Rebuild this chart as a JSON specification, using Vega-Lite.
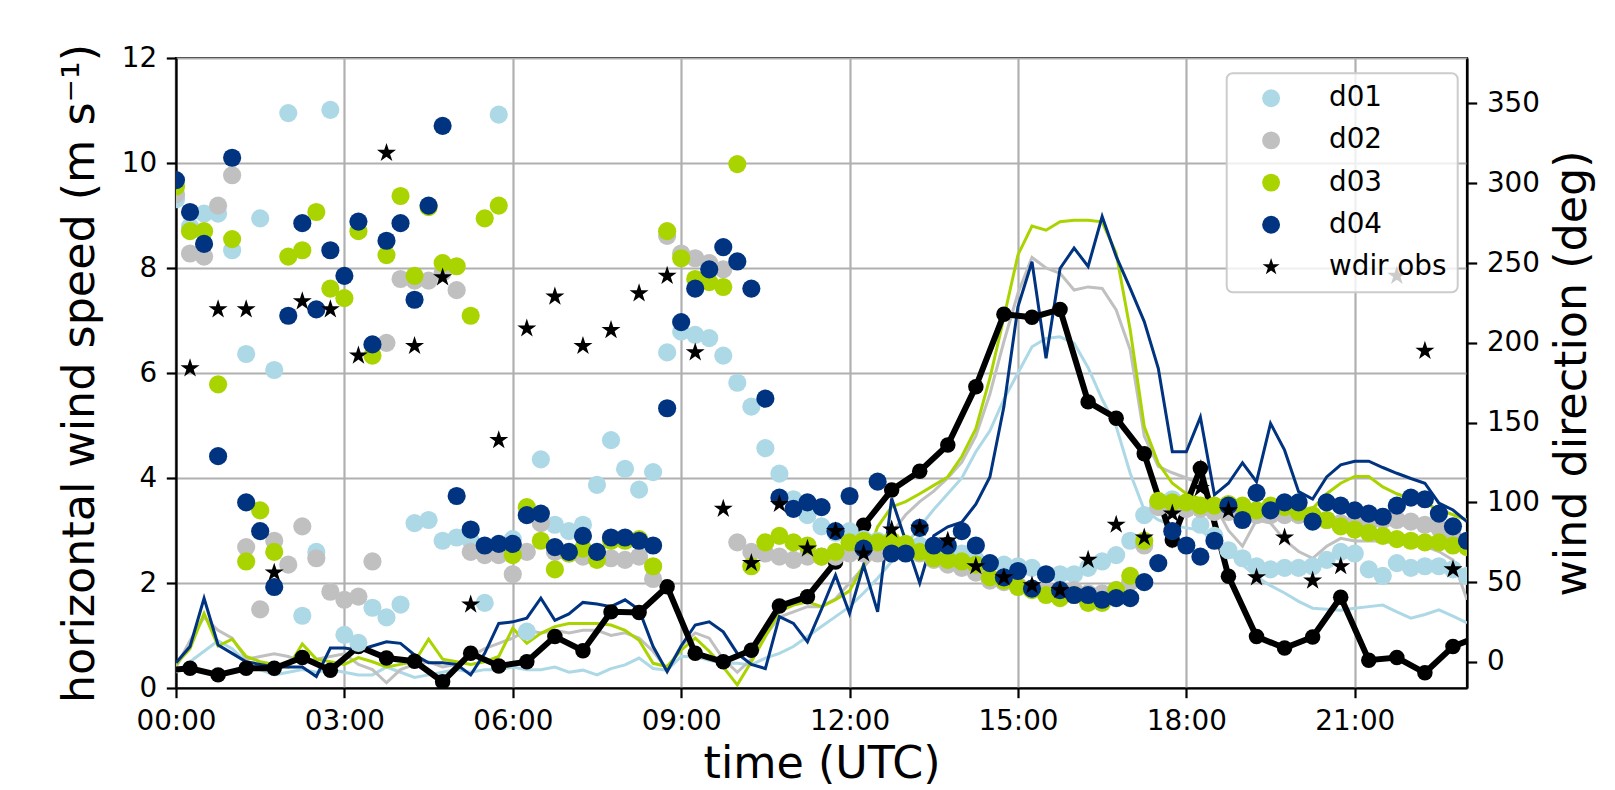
{
"$schema": "https://vega.github.io/schema/vega-lite/v6.json",
"width": 1291, "height": 630,
"autosize": {"type": "none"},
"padding": {"left": 176, "top": 58, "right": 148, "bottom": 102},
"background": "white",
"config": {
 "font": "DejaVu Sans",
 "view": {"stroke": "black", "strokeWidth": 2.2},
 "axis": {"domainColor": "black", "domainWidth": 2.2, "tickColor": "black", "tickWidth": 2.2, "tickSize": 9.7, "labelFont": "DejaVu Sans", "labelFontSize": 27.8, "labelColor": "black", "labelPadding": 9.7, "titleFont": "DejaVu Sans", "titleFontSize": 44.4, "titleFontWeight": "normal", "titleColor": "black", "gridColor": "#b0b0b0", "gridWidth": 2.2, "gridOpacity": 1},
 "legend": {"strokeWidth": 2}
},
"datasets": {
"model": [
{"t":0,"model":"d01","ws":0.3,"wd":290},{"t":0.25,"model":"d01","ws":0.5,"wd":273},{"t":0.5,"model":"d01","ws":0.7,"wd":281},{"t":0.75,"model":"d01","ws":0.9,"wd":281},
{"t":1,"model":"d01","ws":0.75,"wd":258},{"t":1.25,"model":"d01","ws":0.5,"wd":193},{"t":1.5,"model":"d01","ws":0.35,"wd":278},{"t":1.75,"model":"d01","ws":0.25,"wd":183},
{"t":2,"model":"d01","ws":0.3,"wd":344},{"t":2.25,"model":"d01","ws":0.35,"wd":29},{"t":2.5,"model":"d01","ws":0.3,"wd":69},{"t":2.75,"model":"d01","ws":0.35,"wd":346},
{"t":3,"model":"d01","ws":0.3,"wd":17},{"t":3.25,"model":"d01","ws":0.25,"wd":12},{"t":3.5,"model":"d01","ws":0.25,"wd":34},{"t":3.75,"model":"d01","ws":0.4,"wd":28},
{"t":4,"model":"d01","ws":0.3,"wd":36},{"t":4.25,"model":"d01","ws":0.2,"wd":87},{"t":4.5,"model":"d01","ws":0.25,"wd":89},{"t":4.75,"model":"d01","ws":0.3,"wd":76},
{"t":5,"model":"d01","ws":0.35,"wd":78},{"t":5.25,"model":"d01","ws":0.3,"wd":76},{"t":5.5,"model":"d01","ws":0.35,"wd":37},{"t":5.75,"model":"d01","ws":0.35,"wd":343},
{"t":6,"model":"d01","ws":0.4,"wd":77},{"t":6.25,"model":"d01","ws":0.35,"wd":19},{"t":6.5,"model":"d01","ws":0.35,"wd":127},{"t":6.75,"model":"d01","ws":0.4,"wd":86},
{"t":7,"model":"d01","ws":0.3,"wd":82},{"t":7.25,"model":"d01","ws":0.34,"wd":86},{"t":7.5,"model":"d01","ws":0.25,"wd":111},{"t":7.75,"model":"d01","ws":0.37,"wd":139},
{"t":8,"model":"d01","ws":0.44,"wd":121},{"t":8.25,"model":"d01","ws":0.57,"wd":108},{"t":8.5,"model":"d01","ws":0.37,"wd":119},{"t":8.75,"model":"d01","ws":0.34,"wd":194},
{"t":9,"model":"d01","ws":0.6,"wd":207},{"t":9.25,"model":"d01","ws":0.6,"wd":205},{"t":9.5,"model":"d01","ws":0.53,"wd":203},{"t":9.75,"model":"d01","ws":0.47,"wd":192},
{"t":10,"model":"d01","ws":0.47,"wd":175},{"t":10.25,"model":"d01","ws":0.44,"wd":160},{"t":10.5,"model":"d01","ws":0.57,"wd":134},{"t":10.75,"model":"d01","ws":0.66,"wd":118},
{"t":11,"model":"d01","ws":0.79,"wd":102},{"t":11.25,"model":"d01","ws":0.98,"wd":92},{"t":11.5,"model":"d01","ws":1.17,"wd":85},{"t":11.75,"model":"d01","ws":1.36,"wd":81},
{"t":12,"model":"d01","ws":1.55,"wd":82},{"t":12.25,"model":"d01","ws":1.81,"wd":77},{"t":12.5,"model":"d01","ws":2.09,"wd":76},{"t":12.75,"model":"d01","ws":2.41,"wd":74},
{"t":13,"model":"d01","ws":2.72,"wd":73},{"t":13.25,"model":"d01","ws":3.07,"wd":73},{"t":13.5,"model":"d01","ws":3.4,"wd":71},{"t":13.75,"model":"d01","ws":3.7,"wd":69},
{"t":14,"model":"d01","ws":4.0,"wd":68},{"t":14.25,"model":"d01","ws":4.5,"wd":64},{"t":14.5,"model":"d01","ws":4.9,"wd":62},{"t":14.75,"model":"d01","ws":5.5,"wd":61},
{"t":15,"model":"d01","ws":6.0,"wd":60},{"t":15.25,"model":"d01","ws":6.5,"wd":59},{"t":15.5,"model":"d01","ws":6.66,"wd":55},{"t":15.75,"model":"d01","ws":6.69,"wd":55},
{"t":16,"model":"d01","ws":6.57,"wd":55},{"t":16.25,"model":"d01","ws":6.1,"wd":59},{"t":16.5,"model":"d01","ws":5.5,"wd":63},{"t":16.75,"model":"d01","ws":4.98,"wd":67},
{"t":17,"model":"d01","ws":4.09,"wd":76},{"t":17.25,"model":"d01","ws":3.39,"wd":92},{"t":17.5,"model":"d01","ws":3.2,"wd":100},{"t":17.75,"model":"d01","ws":3.1,"wd":102},
{"t":18,"model":"d01","ws":3.05,"wd":96},{"t":18.25,"model":"d01","ws":3.01,"wd":86},{"t":18.5,"model":"d01","ws":2.8,"wd":79},{"t":18.75,"model":"d01","ws":2.57,"wd":70},
{"t":19,"model":"d01","ws":2.35,"wd":65},{"t":19.25,"model":"d01","ws":2.12,"wd":60},{"t":19.5,"model":"d01","ws":1.95,"wd":58},{"t":19.75,"model":"d01","ws":1.81,"wd":59},
{"t":20,"model":"d01","ws":1.65,"wd":59},{"t":20.25,"model":"d01","ws":1.52,"wd":60},{"t":20.5,"model":"d01","ws":1.5,"wd":64},{"t":20.75,"model":"d01","ws":1.48,"wd":69},
{"t":21,"model":"d01","ws":1.52,"wd":68},{"t":21.25,"model":"d01","ws":1.55,"wd":58},{"t":21.5,"model":"d01","ws":1.58,"wd":54},{"t":21.75,"model":"d01","ws":1.45,"wd":62},
{"t":22,"model":"d01","ws":1.33,"wd":59},{"t":22.25,"model":"d01","ws":1.4,"wd":60},{"t":22.5,"model":"d01","ws":1.49,"wd":60},{"t":22.75,"model":"d01","ws":1.37,"wd":58},
{"t":23,"model":"d01","ws":1.24,"wd":54},

{"t":0,"model":"d02","ws":0.4,"wd":293},{"t":0.25,"model":"d02","ws":0.9,"wd":256},{"t":0.5,"model":"d02","ws":1.35,"wd":254},{"t":0.75,"model":"d02","ws":1.1,"wd":286},
{"t":1,"model":"d02","ws":0.95,"wd":305},{"t":1.25,"model":"d02","ws":0.55,"wd":72},{"t":1.5,"model":"d02","ws":0.6,"wd":33},{"t":1.75,"model":"d02","ws":0.65,"wd":76},
{"t":2,"model":"d02","ws":0.6,"wd":61},{"t":2.25,"model":"d02","ws":0.5,"wd":85},{"t":2.5,"model":"d02","ws":0.55,"wd":65},{"t":2.75,"model":"d02","ws":0.6,"wd":44},
{"t":3,"model":"d02","ws":0.65,"wd":39},{"t":3.25,"model":"d02","ws":0.45,"wd":41},{"t":3.5,"model":"d02","ws":0.35,"wd":63},{"t":3.75,"model":"d02","ws":0.1,"wd":200},
{"t":4,"model":"d02","ws":0.35,"wd":240},{"t":4.25,"model":"d02","ws":0.45,"wd":239},{"t":4.5,"model":"d02","ws":0.5,"wd":239},{"t":4.75,"model":"d02","ws":0.4,"wd":244},
{"t":5,"model":"d02","ws":0.45,"wd":233},{"t":5.25,"model":"d02","ws":0.6,"wd":69},{"t":5.5,"model":"d02","ws":0.75,"wd":67},{"t":5.75,"model":"d02","ws":0.85,"wd":67},
{"t":6,"model":"d02","ws":0.95,"wd":55},{"t":6.25,"model":"d02","ws":1.1,"wd":69},{"t":6.5,"model":"d02","ws":1.05,"wd":87},{"t":6.75,"model":"d02","ws":1.1,"wd":69},
{"t":7,"model":"d02","ws":1.05,"wd":68},{"t":7.25,"model":"d02","ws":1.1,"wd":66},{"t":7.5,"model":"d02","ws":1.1,"wd":66},{"t":7.75,"model":"d02","ws":1.0,"wd":65},
{"t":8,"model":"d02","ws":1.05,"wd":64},{"t":8.25,"model":"d02","ws":0.95,"wd":66},{"t":8.5,"model":"d02","ws":0.7,"wd":52},{"t":8.75,"model":"d02","ws":0.35,"wd":267},
{"t":9,"model":"d02","ws":0.8,"wd":256},{"t":9.25,"model":"d02","ws":1.05,"wd":253},{"t":9.5,"model":"d02","ws":0.95,"wd":250},{"t":9.75,"model":"d02","ws":0.55,"wd":246},
{"t":10,"model":"d02","ws":0.3,"wd":75},{"t":10.25,"model":"d02","ws":0.55,"wd":69},{"t":10.5,"model":"d02","ws":1.0,"wd":68},{"t":10.75,"model":"d02","ws":1.35,"wd":66},
{"t":11,"model":"d02","ws":1.45,"wd":64},{"t":11.25,"model":"d02","ws":1.55,"wd":66},{"t":11.5,"model":"d02","ws":1.55,"wd":66},{"t":11.75,"model":"d02","ws":1.7,"wd":66},
{"t":12,"model":"d02","ws":2.0,"wd":68},{"t":12.25,"model":"d02","ws":2.3,"wd":68},{"t":12.5,"model":"d02","ws":2.6,"wd":68},{"t":12.75,"model":"d02","ws":2.95,"wd":69},
{"t":13,"model":"d02","ws":3.3,"wd":69},{"t":13.25,"model":"d02","ws":3.55,"wd":68},{"t":13.5,"model":"d02","ws":3.75,"wd":64},{"t":13.75,"model":"d02","ws":4.0,"wd":61},
{"t":14,"model":"d02","ws":4.3,"wd":59},{"t":14.25,"model":"d02","ws":4.8,"wd":56},{"t":14.5,"model":"d02","ws":5.6,"wd":51},{"t":14.75,"model":"d02","ws":6.6,"wd":50},
{"t":15,"model":"d02","ws":7.52,"wd":48},{"t":15.25,"model":"d02","ws":8.2,"wd":46},{"t":15.5,"model":"d02","ws":8.0,"wd":45},{"t":15.75,"model":"d02","ws":7.9,"wd":45},
{"t":16,"model":"d02","ws":7.58,"wd":45},{"t":16.25,"model":"d02","ws":7.64,"wd":43},{"t":16.5,"model":"d02","ws":7.61,"wd":43},{"t":16.75,"model":"d02","ws":7.2,"wd":45},
{"t":17,"model":"d02","ws":6.44,"wd":50},{"t":17.25,"model":"d02","ws":4.8,"wd":73},{"t":17.5,"model":"d02","ws":4.22,"wd":97},{"t":17.75,"model":"d02","ws":4.1,"wd":97},
{"t":18,"model":"d02","ws":4.0,"wd":96},{"t":18.25,"model":"d02","ws":3.9,"wd":96},{"t":18.5,"model":"d02","ws":3.5,"wd":94},{"t":18.75,"model":"d02","ws":3.0,"wd":94},
{"t":19,"model":"d02","ws":2.7,"wd":92},{"t":19.25,"model":"d02","ws":3.2,"wd":92},{"t":19.5,"model":"d02","ws":3.14,"wd":92},{"t":19.75,"model":"d02","ws":2.82,"wd":92},
{"t":20,"model":"d02","ws":2.6,"wd":92},{"t":20.25,"model":"d02","ws":2.47,"wd":91},{"t":20.5,"model":"d02","ws":2.7,"wd":89},{"t":20.75,"model":"d02","ws":2.85,"wd":87},
{"t":21,"model":"d02","ws":2.8,"wd":87},{"t":21.25,"model":"d02","ws":2.8,"wd":87},{"t":21.5,"model":"d02","ws":2.8,"wd":89},{"t":21.75,"model":"d02","ws":2.75,"wd":89},
{"t":22,"model":"d02","ws":2.75,"wd":88},{"t":22.25,"model":"d02","ws":2.7,"wd":86},{"t":22.5,"model":"d02","ws":2.6,"wd":84},{"t":22.75,"model":"d02","ws":2.44,"wd":79},
{"t":23,"model":"d02","ws":1.68,"wd":76},

{"t":0,"model":"d03","ws":0.45,"wd":298},{"t":0.25,"model":"d03","ws":0.75,"wd":270},{"t":0.5,"model":"d03","ws":1.42,"wd":270},{"t":0.75,"model":"d03","ws":0.8,"wd":174},
{"t":1,"model":"d03","ws":0.93,"wd":265},{"t":1.25,"model":"d03","ws":0.6,"wd":63},{"t":1.5,"model":"d03","ws":0.5,"wd":95},{"t":1.75,"model":"d03","ws":0.45,"wd":69},
{"t":2,"model":"d03","ws":0.4,"wd":254},{"t":2.25,"model":"d03","ws":0.84,"wd":258},{"t":2.5,"model":"d03","ws":0.55,"wd":282},{"t":2.75,"model":"d03","ws":0.5,"wd":234},
{"t":3,"model":"d03","ws":0.45,"wd":228},{"t":3.25,"model":"d03","ws":0.58,"wd":270},{"t":3.5,"model":"d03","ws":0.5,"wd":192},{"t":3.75,"model":"d03","ws":0.4,"wd":255},
{"t":4,"model":"d03","ws":0.45,"wd":292},{"t":4.25,"model":"d03","ws":0.5,"wd":242},{"t":4.5,"model":"d03","ws":0.93,"wd":285},{"t":4.75,"model":"d03","ws":0.55,"wd":250},
{"t":5,"model":"d03","ws":0.5,"wd":248},{"t":5.25,"model":"d03","ws":0.45,"wd":217},{"t":5.5,"model":"d03","ws":0.5,"wd":278},{"t":5.75,"model":"d03","ws":0.6,"wd":286},
{"t":6,"model":"d03","ws":1.14,"wd":67},{"t":6.25,"model":"d03","ws":0.85,"wd":97},{"t":6.5,"model":"d03","ws":1.04,"wd":76},{"t":6.75,"model":"d03","ws":1.17,"wd":58},
{"t":7,"model":"d03","ws":1.23,"wd":68},{"t":7.25,"model":"d03","ws":1.23,"wd":71},{"t":7.5,"model":"d03","ws":1.23,"wd":64},{"t":7.75,"model":"d03","ws":1.2,"wd":76},
{"t":8,"model":"d03","ws":1.1,"wd":76},{"t":8.25,"model":"d03","ws":0.91,"wd":77},{"t":8.5,"model":"d03","ws":0.47,"wd":60},{"t":8.75,"model":"d03","ws":0.41,"wd":270},
{"t":9,"model":"d03","ws":0.72,"wd":253},{"t":9.25,"model":"d03","ws":0.95,"wd":240},{"t":9.5,"model":"d03","ws":0.7,"wd":238},{"t":9.75,"model":"d03","ws":0.4,"wd":235},
{"t":10,"model":"d03","ws":0.06,"wd":312},{"t":10.25,"model":"d03","ws":0.5,"wd":60},{"t":10.5,"model":"d03","ws":0.98,"wd":75},{"t":10.75,"model":"d03","ws":1.46,"wd":79},
{"t":11,"model":"d03","ws":1.58,"wd":75},{"t":11.25,"model":"d03","ws":1.64,"wd":73},{"t":11.5,"model":"d03","ws":1.55,"wd":66},{"t":11.75,"model":"d03","ws":1.68,"wd":69},
{"t":12,"model":"d03","ws":1.85,"wd":75},{"t":12.25,"model":"d03","ws":2.34,"wd":76},{"t":12.5,"model":"d03","ws":3.07,"wd":75},{"t":12.75,"model":"d03","ws":3.45,"wd":76},
{"t":13,"model":"d03","ws":3.55,"wd":74},{"t":13.25,"model":"d03","ws":3.7,"wd":69},{"t":13.5,"model":"d03","ws":3.86,"wd":65},{"t":13.75,"model":"d03","ws":4.02,"wd":64},
{"t":14,"model":"d03","ws":4.41,"wd":63},{"t":14.25,"model":"d03","ws":4.94,"wd":61},{"t":14.5,"model":"d03","ws":5.9,"wd":53},{"t":14.75,"model":"d03","ws":7.06,"wd":51},
{"t":15,"model":"d03","ws":8.25,"wd":47},{"t":15.25,"model":"d03","ws":8.8,"wd":45},{"t":15.5,"model":"d03","ws":8.72,"wd":42},{"t":15.75,"model":"d03","ws":8.88,"wd":40},
{"t":16,"model":"d03","ws":8.91,"wd":42},{"t":16.25,"model":"d03","ws":8.91,"wd":37},{"t":16.5,"model":"d03","ws":8.88,"wd":37},{"t":16.75,"model":"d03","ws":8.28,"wd":45},
{"t":17,"model":"d03","ws":6.82,"wd":54},{"t":17.25,"model":"d03","ws":4.98,"wd":76},{"t":17.5,"model":"d03","ws":4.28,"wd":101},{"t":17.75,"model":"d03","ws":3.9,"wd":100},
{"t":18,"model":"d03","ws":3.7,"wd":100},{"t":18.25,"model":"d03","ws":3.6,"wd":98},{"t":18.5,"model":"d03","ws":3.55,"wd":98},{"t":18.75,"model":"d03","ws":3.5,"wd":99},
{"t":19,"model":"d03","ws":3.45,"wd":98},{"t":19.25,"model":"d03","ws":3.45,"wd":95},{"t":19.5,"model":"d03","ws":3.45,"wd":98},{"t":19.75,"model":"d03","ws":3.45,"wd":97},
{"t":20,"model":"d03","ws":3.4,"wd":94},{"t":20.25,"model":"d03","ws":3.42,"wd":92},{"t":20.5,"model":"d03","ws":3.7,"wd":89},{"t":20.75,"model":"d03","ws":3.9,"wd":85},
{"t":21,"model":"d03","ws":4.03,"wd":83},{"t":21.25,"model":"d03","ws":4.03,"wd":81},{"t":21.5,"model":"d03","ws":3.83,"wd":79},{"t":21.75,"model":"d03","ws":3.7,"wd":77},
{"t":22,"model":"d03","ws":3.6,"wd":76},{"t":22.25,"model":"d03","ws":3.52,"wd":75},{"t":22.5,"model":"d03","ws":3.4,"wd":75},{"t":22.75,"model":"d03","ws":3.3,"wd":73},
{"t":23,"model":"d03","ws":3.2,"wd":72},

{"t":0,"model":"d04","ws":0.48,"wd":302},{"t":0.25,"model":"d04","ws":0.79,"wd":282},{"t":0.5,"model":"d04","ws":1.71,"wd":262},{"t":0.75,"model":"d04","ws":0.82,"wd":129},
{"t":1,"model":"d04","ws":0.66,"wd":316},{"t":1.25,"model":"d04","ws":0.5,"wd":100},{"t":1.5,"model":"d04","ws":0.45,"wd":82},{"t":1.75,"model":"d04","ws":0.4,"wd":47},
{"t":2,"model":"d04","ws":0.4,"wd":217},{"t":2.25,"model":"d04","ws":0.4,"wd":275},{"t":2.5,"model":"d04","ws":0.22,"wd":221},{"t":2.75,"model":"d04","ws":0.76,"wd":258},
{"t":3,"model":"d04","ws":0.76,"wd":242},{"t":3.25,"model":"d04","ws":0.72,"wd":276},{"t":3.5,"model":"d04","ws":0.8,"wd":199},{"t":3.75,"model":"d04","ws":0.88,"wd":264},
{"t":4,"model":"d04","ws":0.85,"wd":275},{"t":4.25,"model":"d04","ws":0.63,"wd":227},{"t":4.5,"model":"d04","ws":0.48,"wd":286},{"t":4.75,"model":"d04","ws":0.48,"wd":336},
{"t":5,"model":"d04","ws":0.45,"wd":104},{"t":5.25,"model":"d04","ws":0.25,"wd":83},{"t":5.5,"model":"d04","ws":0.66,"wd":73},{"t":5.75,"model":"d04","ws":1.23,"wd":74},
{"t":6,"model":"d04","ws":1.26,"wd":74},{"t":6.25,"model":"d04","ws":1.33,"wd":92},{"t":6.5,"model":"d04","ws":1.71,"wd":93},{"t":6.75,"model":"d04","ws":1.29,"wd":72},
{"t":7,"model":"d04","ws":1.41,"wd":69},{"t":7.25,"model":"d04","ws":1.63,"wd":79},{"t":7.5,"model":"d04","ws":1.6,"wd":69},{"t":7.75,"model":"d04","ws":1.55,"wd":78},
{"t":8,"model":"d04","ws":1.68,"wd":78},{"t":8.25,"model":"d04","ws":1.49,"wd":76},{"t":8.5,"model":"d04","ws":0.79,"wd":73},{"t":8.75,"model":"d04","ws":0.31,"wd":159},
{"t":9,"model":"d04","ws":0.8,"wd":213},{"t":9.25,"model":"d04","ws":1.2,"wd":234},{"t":9.5,"model":"d04","ws":1.26,"wd":246},{"t":9.75,"model":"d04","ws":1.07,"wd":260},
{"t":10,"model":"d04","ws":0.66,"wd":251},{"t":10.25,"model":"d04","ws":0.45,"wd":234},{"t":10.5,"model":"d04","ws":0.37,"wd":165},{"t":10.75,"model":"d04","ws":1.36,"wd":103},
{"t":11,"model":"d04","ws":1.23,"wd":96},{"t":11.25,"model":"d04","ws":0.88,"wd":100},{"t":11.5,"model":"d04","ws":1.5,"wd":97},{"t":11.75,"model":"d04","ws":2.15,"wd":82},
{"t":12,"model":"d04","ws":1.42,"wd":104},{"t":12.25,"model":"d04","ws":2.34,"wd":71},{"t":12.5,"model":"d04","ws":1.45,"wd":113},{"t":12.75,"model":"d04","ws":3.61,"wd":68},
{"t":13,"model":"d04","ws":2.8,"wd":68},{"t":13.25,"model":"d04","ws":2.0,"wd":84},{"t":13.5,"model":"d04","ws":2.9,"wd":73},{"t":13.75,"model":"d04","ws":3.07,"wd":73},
{"t":14,"model":"d04","ws":3.16,"wd":82},{"t":14.25,"model":"d04","ws":3.5,"wd":73},{"t":14.5,"model":"d04","ws":4.02,"wd":62},{"t":14.75,"model":"d04","ws":5.36,"wd":53},
{"t":15,"model":"d04","ws":7.26,"wd":57},{"t":15.25,"model":"d04","ws":8.12,"wd":46},{"t":15.5,"model":"d04","ws":6.28,"wd":55},{"t":15.75,"model":"d04","ws":7.99,"wd":45},
{"t":16,"model":"d04","ws":8.38,"wd":42},{"t":16.25,"model":"d04","ws":8.03,"wd":42},{"t":16.5,"model":"d04","ws":8.98,"wd":39},{"t":16.75,"model":"d04","ws":8.22,"wd":40},
{"t":17,"model":"d04","ws":7.61,"wd":40},{"t":17.25,"model":"d04","ws":6.98,"wd":50},{"t":17.5,"model":"d04","ws":6.09,"wd":62},{"t":17.75,"model":"d04","ws":4.5,"wd":82},
{"t":18,"model":"d04","ws":4.5,"wd":73},{"t":18.25,"model":"d04","ws":5.16,"wd":66},{"t":18.5,"model":"d04","ws":3.68,"wd":76},{"t":18.75,"model":"d04","ws":3.9,"wd":98},
{"t":19,"model":"d04","ws":4.29,"wd":89},{"t":19.25,"model":"d04","ws":3.93,"wd":106},{"t":19.5,"model":"d04","ws":5.04,"wd":95},{"t":19.75,"model":"d04","ws":4.53,"wd":100},
{"t":20,"model":"d04","ws":3.74,"wd":100},{"t":20.25,"model":"d04","ws":3.6,"wd":88},{"t":20.5,"model":"d04","ws":4.02,"wd":100},{"t":20.75,"model":"d04","ws":4.25,"wd":98},
{"t":21,"model":"d04","ws":4.32,"wd":95},{"t":21.25,"model":"d04","ws":4.32,"wd":93},{"t":21.5,"model":"d04","ws":4.2,"wd":91},{"t":21.75,"model":"d04","ws":4.09,"wd":98},
{"t":22,"model":"d04","ws":3.99,"wd":103},{"t":22.25,"model":"d04","ws":3.9,"wd":102},{"t":22.5,"model":"d04","ws":3.52,"wd":93},{"t":22.75,"model":"d04","ws":3.39,"wd":85},
{"t":23,"model":"d04","ws":3.17,"wd":76}
],
"obs": [
{"t":-0.25,"ws":0.33,"wd":null},
{"t":0.25,"ws":0.375,"wd":184},{"t":0.75,"ws":0.25,"wd":221},{"t":1.25,"ws":0.375,"wd":221},{"t":1.75,"ws":0.375,"wd":56},
{"t":2.25,"ws":0.58,"wd":226},{"t":2.75,"ws":0.34,"wd":221},{"t":3.25,"ws":0.79,"wd":192},{"t":3.75,"ws":0.57,"wd":319},
{"t":4.25,"ws":0.51,"wd":198},{"t":4.75,"ws":0.12,"wd":241},{"t":5.25,"ws":0.66,"wd":36},{"t":5.75,"ws":0.42,"wd":139},
{"t":6.25,"ws":0.5,"wd":209},{"t":6.75,"ws":0.98,"wd":229},{"t":7.25,"ws":0.71,"wd":198},{"t":7.75,"ws":1.45,"wd":208},
{"t":8.25,"ws":1.44,"wd":231},{"t":8.75,"ws":1.93,"wd":242},{"t":9.25,"ws":0.66,"wd":194},{"t":9.75,"ws":0.5,"wd":96},
{"t":10.25,"ws":0.72,"wd":62},{"t":10.75,"ws":1.56,"wd":99},{"t":11.25,"ws":1.74,"wd":71},{"t":11.75,"ws":2.4,"wd":82},
{"t":12.25,"ws":3.1,"wd":68},{"t":12.75,"ws":3.77,"wd":83},{"t":13.25,"ws":4.13,"wd":84},{"t":13.75,"ws":4.63,"wd":76},
{"t":14.25,"ws":5.74,"wd":60},{"t":14.75,"ws":7.12,"wd":53},{"t":15.25,"ws":7.06,"wd":48},{"t":15.75,"ws":7.21,"wd":45},
{"t":16.25,"ws":5.45,"wd":64},{"t":16.75,"ws":5.14,"wd":86},{"t":17.25,"ws":4.46,"wd":78},{"t":17.75,"ws":2.82,"wd":93},
{"t":18.25,"ws":4.18,"wd":109},{"t":18.75,"ws":2.13,"wd":95},{"t":19.25,"ws":0.98,"wd":53},{"t":19.75,"ws":0.76,"wd":78},
{"t":20.25,"ws":0.97,"wd":51},{"t":20.75,"ws":1.73,"wd":60},{"t":21.25,"ws":0.53,"wd":null},{"t":21.75,"ws":0.58,"wd":242},
{"t":22.25,"ws":0.29,"wd":195},{"t":22.75,"ws":0.79,"wd":58},{"t":23.25,"ws":1.0,"wd":null}
]
},
"layer": [
 {
  "layer": [
   {"data": {"name": "model"}, "mark": {"type": "line", "strokeWidth": 3, "clip": true},
    "encoding": {
     "x": {"field": "t", "type": "quantitative", "scale": {"domain": [0, 23], "nice": false, "zero": false}, "axis": {"values": [0,3,6,9,12,15,18,21], "labelExpr": "(datum.value < 10 ? '0' : '') + datum.value + ':00'", "title": "time (UTC)", "grid": true, "labelFlush": false, "labelOverlap": false, "titlePadding": 7}},
     "y": {"field": "ws", "type": "quantitative", "scale": {"domain": [0, 12], "nice": false, "zero": false}, "axis": {"orient": "left", "values": [0,2,4,6,8,10,12], "title": "horizontal wind speed (m s⁻¹)", "grid": true, "titlePadding": 19}},
     "stroke": {"field": "model", "type": "nominal", "scale": {"domain": ["d01","d02","d03","d04"], "range": ["#add8e6","#c0c0c0","#aad400","#003380"]}, "legend": null}
    }},
   {"data": {"name": "obs"}, "mark": {"type": "line", "color": "black", "strokeWidth": 6, "clip": true},
    "encoding": {
     "x": {"field": "t", "type": "quantitative"},
     "y": {"field": "ws", "type": "quantitative"}
    }},
   {"data": {"name": "obs"}, "mark": {"type": "point", "filled": true, "color": "black", "opacity": 1, "size": 240, "strokeWidth": 0, "clip": true},
    "encoding": {
     "x": {"field": "t", "type": "quantitative"},
     "y": {"field": "ws", "type": "quantitative"}
    }}
  ]
 },
 {
  "layer": [
   {"data": {"name": "model"}, "mark": {"type": "point", "filled": true, "opacity": 1, "size": 330, "strokeWidth": 0, "clip": true},
    "encoding": {
     "x": {"field": "t", "type": "quantitative"},
     "y": {"field": "wd", "type": "quantitative", "scale": {"domain": [-16.3, 378.5], "nice": false, "zero": false}, "axis": {"orient": "right", "values": [0,50,100,150,200,250,300,350], "title": "wind direction (deg)", "grid": false, "titleAngle": -90, "titleBaseline": "top", "titlePadding": 11}},
     "color": {"field": "model", "type": "nominal", "scale": {"domain": ["d01","d02","d03","d04","wdir obs"], "range": ["#add8e6","#c0c0c0","#aad400","#003380","black"]},
       "legend": {"title": null, "orient": "none", "legendX": 1050.7, "legendY": 15.3, "labelFontSize": 27.8, "labelFont": "DejaVu Sans", "labelColor": "black", "symbolSize": 320, "symbolStrokeWidth": 0, "symbolOpacity": 1, "symbolOffset": 19.5, "labelOffset": 44, "padding": 11, "rowPadding": 13.2, "fillColor": "rgba(255,255,255,0.8)", "strokeColor": "#cccccc", "cornerRadius": 6}},
     "shape": {"field": "model", "type": "nominal", "scale": {"domain": ["d01","d02","d03","d04","wdir obs"], "range": ["circle","circle","circle","circle","M0,-1L0.225,-0.309L0.951,-0.309L0.363,0.118L0.588,0.809L0,0.382L-0.588,0.809L-0.363,0.118L-0.951,-0.309L-0.225,-0.309Z"]},
       "legend": {"title": null, "orient": "none", "legendX": 1050.7, "legendY": 15.3, "labelFontSize": 27.8, "labelFont": "DejaVu Sans", "labelColor": "black", "symbolSize": 320, "symbolStrokeWidth": 0, "symbolOpacity": 1, "symbolOffset": 19.5, "labelOffset": 44, "padding": 11, "rowPadding": 13.2, "fillColor": "rgba(255,255,255,0.8)", "strokeColor": "#cccccc", "cornerRadius": 6}}
    }},
   {"data": {"name": "obs"}, "mark": {"type": "point", "filled": true, "opacity": 1, "size": 400, "strokeWidth": 0, "clip": true},
    "encoding": {
     "x": {"field": "t", "type": "quantitative"},
     "y": {"field": "wd", "type": "quantitative"},
     "color": {"datum": "wdir obs", "type": "nominal"},
     "shape": {"datum": "wdir obs", "type": "nominal"}
    }}
  ]
 }
],
"resolve": {"scale": {"y": "independent"}}
}
